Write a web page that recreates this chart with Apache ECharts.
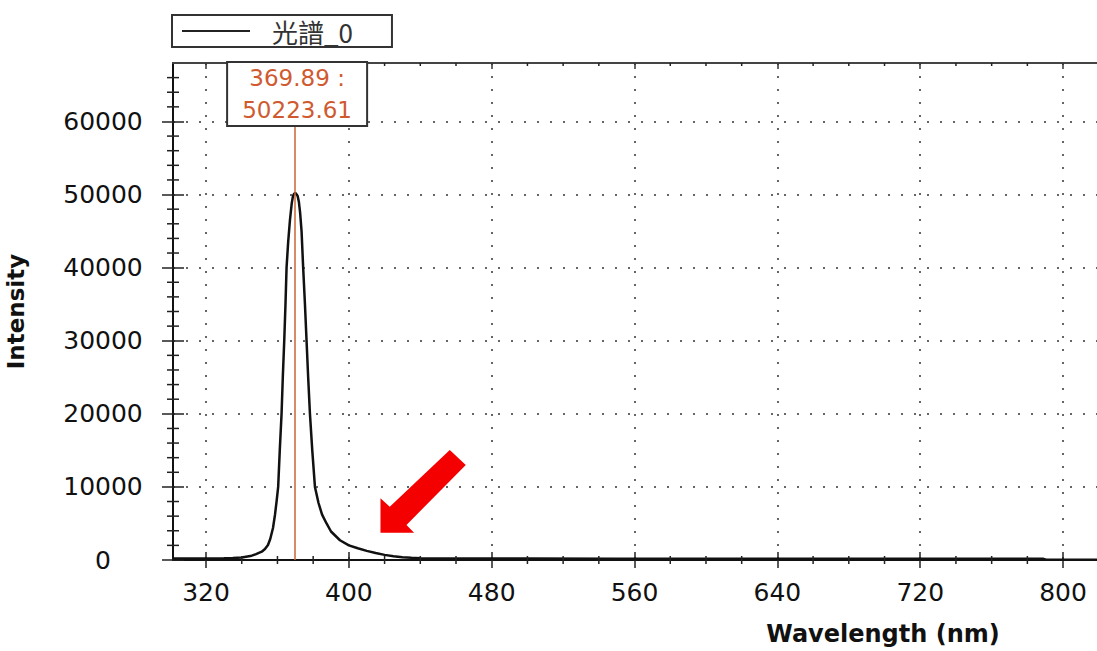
<!DOCTYPE html>
<html>
<head>
<meta charset="utf-8">
<script src="https://cdn.jsdelivr.net/npm/echarts@6/dist/echarts.min.js"></script>
<style>
  html, body { margin: 0; padding: 0; background: #fff; overflow: hidden; }
  #chart { width: 1097px; height: 651px; }
</style>
</head>
<body>
<div id="chart"></div>
<script>
// Emission spectrum: wavelength (nm) against detector intensity
const seriesName = '光譜_0';
const wavelengths = [301.5, 310, 320, 330, 335, 340, 345.6, 348, 351.2, 353, 354.7, 356, 357.5, 358.6, 359.5,
  360.4, 361.3, 362.3, 363, 363.8, 364.5, 365.1, 366, 367, 368, 368.7, 369.3, 369.89, 370.5, 371.3,
  372.0, 372.7, 373.5, 374.4, 375.4, 376.3, 377.2, 378.2, 379.5, 381, 383, 385, 387.5, 390, 395,
  400, 405, 410, 415, 420, 425, 430, 435, 440, 450, 470, 500, 550, 600, 650, 700, 750, 789, 790.5, 819];
const intensities = [200, 210, 220, 240, 260, 330, 590, 800, 1140, 1500, 2050, 2900, 4380, 6160, 8000,
  10000, 15000, 20000, 25000, 30000, 35000, 40000, 43500, 46500, 48800, 49800, 50100, 50223.61, 50100, 49800,
  49000, 47500, 45000, 40000, 35000, 30000, 25000, 20000, 15000, 10000, 7800, 6200, 5000, 3900, 2700,
  2000, 1600, 1250, 950, 700, 500, 380, 300, 250, 220, 200, 190, 180, 175, 170, 165, 160, 155, 30, 20];

// Cursor readout at the emission peak
const peakWavelength = 369.89;
const peakIntensity = 50223.61;

// Axis ranges and tick values
const xRange = [301.5, 819];
const yRange = [0, 68000];
const xMajorTicks = [320, 400, 480, 560, 640, 720, 800];
const xMinorTicks = [340, 360, 380, 420, 440, 460, 500, 520, 540, 580, 600, 620,
  660, 680, 700, 740, 760, 780];
const yMajorTicks = [0, 10000, 20000, 30000, 40000, 50000, 60000];
const yMinorTicks = [2000, 4000, 6000, 8000, 12000, 14000, 16000, 18000, 22000, 24000, 26000, 28000,
  32000, 34000, 36000, 38000, 42000, 44000, 46000, 48000, 52000, 54000, 56000, 58000, 62000, 64000, 66000];

// Point the red arrow tip at on the falling tail
const arrowTarget = [417.7, 3740];

const LATIN = '"DejaVu Sans", "Liberation Sans", sans-serif';
const dotted = { color: '#666', width: 2, type: [2, 11] };
const plain = v => String(v);
const tickStyle = { stroke: '#222', lineWidth: 1.5 };

// Overlay axis that only draws major tick marks, shifted so the marks cross the axis line
function tickOnlyX(position, values, length, inside, offset) {
  return {
    type: 'value', position, min: xRange[0], max: xRange[1], offset,
    axisLine: { show: false, onZero: false },
    axisLabel: { show: false },
    splitLine: { show: false },
    axisTick: { show: true, inside, length, customValues: values, lineStyle: { color: '#222', width: 1.5 } }
  };
}
function tickOnlyY(values, length, offset) {
  return {
    type: 'value', position: 'left', min: yRange[0], max: yRange[1], offset,
    axisLine: { show: false, onZero: false },
    axisLabel: { show: false },
    splitLine: { show: false },
    axisTick: { show: true, length, customValues: values, lineStyle: { color: '#222', width: 1.5 } }
  };
}

// Minor tick marks drawn through the axes' own scales
function minorTickSeries(points, draw) {
  return {
    type: 'custom', xAxisIndex: 0, yAxisIndex: 0, silent: true, clip: false, z: 4,
    data: points,
    renderItem: (params, api) => {
      const p = api.coord([api.value(0), api.value(1)]);
      return { type: 'line', shape: draw(p), style: tickStyle };
    }
  };
}

const chart = echarts.init(document.getElementById('chart'), null, { renderer: 'svg' });

const option = {
  animation: false,
  backgroundColor: '#fff',
  grid: { left: 173, right: 0, top: 63, bottom: 91, containLabel: false, outerBoundsMode: 'none' },
  legend: {
    left: 172, top: 15,
    padding: [3, 39, 3, 10],
    borderColor: '#333', borderWidth: 2,
    itemWidth: 68, itemHeight: 2, itemGap: 0,
    textStyle: { fontFamily: '"Noto Sans CJK TC", sans-serif', fontSize: 26, color: '#333', padding: [0, 0, 0, 17] },
    data: [{ name: seriesName, icon: 'rect', itemStyle: { color: '#222' } }]
  },
  xAxis: [
    {
      type: 'value', position: 'bottom', min: xRange[0], max: xRange[1],
      name: 'Wavelength (nm)', nameLocation: 'middle', nameGap: 62,
      nameTextStyle: { fontFamily: LATIN, fontWeight: 'bold', fontSize: 24, color: '#111', padding: [0, 0, 0, 496] },
      axisLine: { show: true, onZero: false, lineStyle: { color: '#111', width: 2 } },
      axisTick: { show: false, customValues: xMajorTicks },
      axisLabel: { show: true, customValues: xMajorTicks, formatter: plain, margin: 20, fontFamily: LATIN, fontSize: 25, color: '#111' },
      splitLine: { show: true, lineStyle: dotted }
    },
    tickOnlyX('bottom', xMajorTicks, 16, false, -8),
    {
      type: 'value', position: 'top', min: xRange[0], max: xRange[1],
      axisLine: { show: true, onZero: false, lineStyle: { color: '#444', width: 2 } },
      axisLabel: { show: false },
      splitLine: { show: false },
      axisTick: { show: true, inside: true, length: 6, customValues: xMajorTicks, lineStyle: { color: '#333', width: 1.5 } }
    }
  ],
  yAxis: [
    {
      type: 'value', position: 'left', min: yRange[0], max: yRange[1],
      name: 'Intensity', nameLocation: 'middle', nameGap: 146, nameRotate: 90,
      nameTextStyle: { fontFamily: LATIN, fontWeight: 'bold', fontSize: 23, color: '#111' },
      axisLine: { show: true, onZero: false, lineStyle: { color: '#111', width: 2 } },
      axisTick: { show: false, customValues: yMajorTicks },
      axisLabel: { show: true, customValues: yMajorTicks, formatter: plain, margin: 70, align: 'center', fontFamily: LATIN, fontSize: 25, color: '#111' },
      splitLine: { show: true, lineStyle: dotted }
    },
    tickOnlyY(yMajorTicks, 22, -11)
  ],
  series: [
    {
      name: seriesName,
      type: 'line',
      xAxisIndex: 0, yAxisIndex: 0,
      data: wavelengths.map((w, i) => [w, intensities[i]]),
      symbol: 'none', showSymbol: false,
      lineStyle: { color: '#111', width: 2.5 },
      itemStyle: { color: '#111' },
      z: 3,
      markLine: {
        silent: true, symbol: 'none',
        label: { show: false },
        lineStyle: { color: '#c8643a', width: 1.5, type: 'solid' },
        data: [{ xAxis: peakWavelength }]
      }
    },
    // bottom minor ticks crossing the axis
    minorTickSeries(xMinorTicks.map(v => [v, yRange[0]]), p => ({ x1: p[0], y1: p[1] - 4, x2: p[0], y2: p[1] + 4 })),
    // top minor ticks pointing inward
    minorTickSeries(xMinorTicks.map(v => [v, yRange[1]]), p => ({ x1: p[0], y1: p[1], x2: p[0], y2: p[1] + 3 })),
    // left minor ticks crossing the axis
    minorTickSeries(yMinorTicks.map(v => [xRange[0], v]), p => ({ x1: p[0] - 6, y1: p[1], x2: p[0] + 6, y2: p[1] }))
  ]
};
chart.setOption(option);

// Readout box above the peak and the red pointer arrow, placed from data coordinates
const finder = { xAxisIndex: 0, yAxisIndex: 0 };
const [px, pyTop] = chart.convertToPixel(finder, [peakWavelength, yRange[1]]);
const [ax, ay] = chart.convertToPixel(finder, arrowTarget);
const arrowShape = [[0, 0], [0, -34.4], [9.3, -26], [69.3, -82.7], [85.3, -67.7], [26, -7.7], [33.6, 0]];

chart.setOption({
  graphic: [
    {
      type: 'rect', z: 100,
      shape: { x: px - 68, y: pyTop - 1, width: 140, height: 64 },
      style: { fill: '#fff', stroke: '#333', lineWidth: 2 }
    },
    {
      type: 'text', z: 101, x: px + 2, y: pyTop + 15,
      style: { text: peakWavelength.toFixed(2) + ' :', fontFamily: LATIN, fontSize: 23, fill: '#d05a30', align: 'center', verticalAlign: 'middle' }
    },
    {
      type: 'text', z: 101, x: px + 2, y: pyTop + 47,
      style: { text: peakIntensity.toFixed(2), fontFamily: LATIN, fontSize: 23, fill: '#d05a30', align: 'center', verticalAlign: 'middle' }
    },
    {
      type: 'polygon', z: 100,
      shape: { points: arrowShape.map(([dx, dy]) => [ax + dx, ay + dy]) },
      style: { fill: '#f50000' }
    }
  ]
});
</script>
</body>
</html>
